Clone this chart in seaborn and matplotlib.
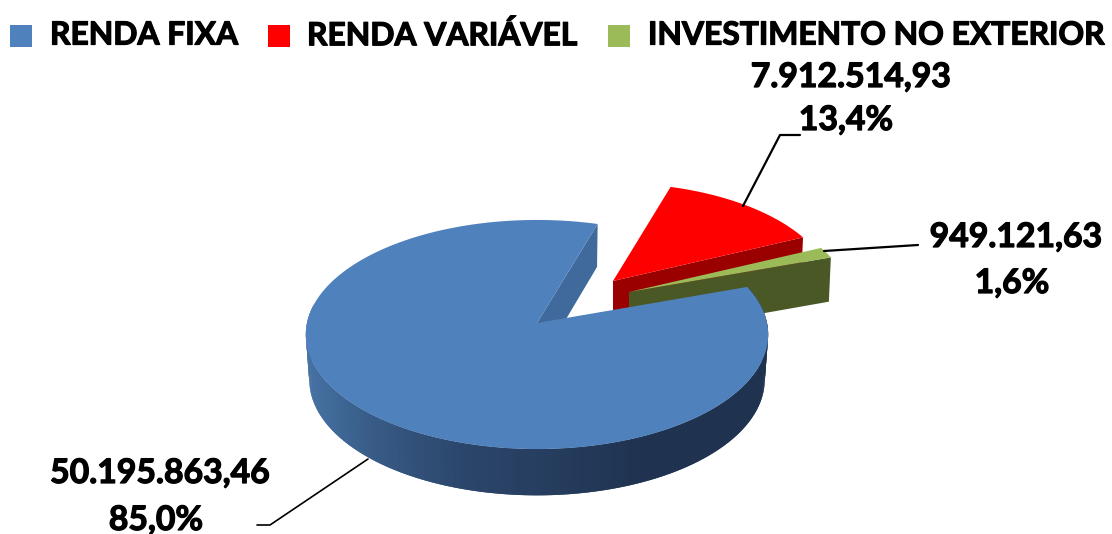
import numpy as np
import matplotlib
matplotlib.use('Agg')
import matplotlib.pyplot as plt
import matplotlib.patheffects as pe
import seaborn as sns

# data
categories = ['RENDA FIXA', 'RENDA VARIÁVEL', 'INVESTIMENTO NO EXTERIOR']
values = [50195863.46, 7912514.93, 949121.63]
colors_top = ['#4f81bd', '#ff0000', '#9bbb59']
colors_face = ['#3f6a9b', '#9a0000', '#4a5826']

sns.set_theme(style='white')
plt.rcParams['font.family'] = ['Lato', 'DejaVu Sans']

fig = plt.figure(figsize=(11.12, 5.34), dpi=100)
ax = fig.add_axes([0, 0, 1, 1])
ax.set_xlim(0, 1112)
ax.set_ylim(534, 0)
ax.axis('off')

# pie geometry, in figure pixels
RX, RY, PERSP = 230, 113.4, 0.1005
DEPTH = 45
START = 73.2  # where the big slice starts, the rest goes counter clockwise

shares = np.array(values) / sum(values)
sweeps = shares * 360
blue_a0, blue_a1 = START, START + sweeps[0]
green_a0, green_a1 = blue_a1 - 360, blue_a1 - 360 + sweeps[2]
red_a0, red_a1 = green_a1, green_a1 + sweeps[1]


def ring(cx, cy, scale, ang, depth=0.0):
    t = np.radians(ang)
    u, v = np.cos(t), np.sin(t)
    d = 1 + PERSP * v
    x = cx + scale * RX * u / d
    y = cy - scale * RY * v / d + depth * (1 - 0.07 * v)
    return x, y


def cut_face(cx, cy, scale, ang, color):
    x0, y0 = ring(cx, cy, scale, ang)
    x1, y1 = ring(cx, cy, scale * 0.99, ang, DEPTH)
    ax.fill([cx, x0, x1, cx], [cy, y0, y1, cy + DEPTH], color=color, lw=0)


def top_face(cx, cy, scale, a0, a1, color):
    ang = np.linspace(a0, a1, 300)
    x, y = ring(cx, cy, scale, ang)
    ax.fill(np.r_[cx, x], np.r_[cy, y], color=color, lw=0)


# red slice
rx0, ry0, rs = 613, 281, 0.95
cut_face(rx0, ry0, rs, red_a0, colors_face[1])
top_face(rx0, ry0, rs, red_a0, red_a1, colors_top[1])

# green slice
gx0, gy0, gs = 629, 292, 0.96
cut_face(gx0, gy0, gs, green_a0, colors_face[2])
top_face(gx0, gy0, gs, green_a0, green_a1, colors_top[2])

# big slice, rim as a row of shaded pieces, each one overlaps the next to hide seams
bx0, by0 = 537, 323
cut_face(bx0, by0, 1.0, blue_a0, colors_face[0])
n_seg = 200
rim_edges = np.linspace(170, blue_a1, n_seg + 1)
rim_colors = sns.blend_palette(['#4f7db3', '#406a99', '#2b456a', '#1f3350', '#1f3350', '#1f3350'], n_seg)
for i in range(n_seg):
    seg = np.linspace(rim_edges[i], rim_edges[min(i + 2, n_seg)], 4)
    xa, ya = ring(bx0, by0, 1.0, seg)
    xb, yb = ring(bx0, by0, 0.985, seg[::-1], DEPTH)
    ax.fill(np.r_[xa, xb], np.r_[ya, yb], color=rim_colors[i], lw=0)
top_face(bx0, by0, 1.0, blue_a0, blue_a1, colors_top[0])

# leader lines
ax.plot([800, 780, 743], [135, 135, 206], color='black', lw=1.6)
ax.plot([824, 918], [251, 245], color='black', lw=1.6)
ax.plot([368, 270, 257], [459, 525, 525], color='black', lw=1.2)


def fmt_value(v):
    return f'{v:,.2f}'.replace(',', 'X').replace('.', ',').replace('X', '.')


def fmt_share(s):
    return f'{s * 100:.1f}%'.replace('.', ',')


# text looks heavier than plain bold in the original
heavy = [pe.withStroke(linewidth=0.9, foreground='black')]

# legend
sns.scatterplot(x=[21, 279, 619], y=[36, 36, 36], hue=categories, palette=colors_top,
                marker='s', s=245, linewidth=0, legend=False, ax=ax)
ax.set_xlim(0, 1112)
ax.set_ylim(534, 0)
ax.set_axis_off()
for name, tx in zip(categories, [50, 307, 648]):
    ax.text(tx, 35, name, fontsize=22.9, fontweight='bold', color='black', ha='left', va='center',
            path_effects=heavy)

# value labels
label_pos = [(160, 473, 156, 520), (851, 77, 846, 120), (1016, 237, 1012, 283)]
for v, s, (x1, y1, x2, y2) in zip(values, shares, label_pos):
    ax.text(x1, y1, fmt_value(v), fontsize=24.3, fontweight='bold', color='black', ha='center', va='center',
            path_effects=heavy)
    ax.text(x2, y2, fmt_share(s), fontsize=24.3, fontweight='bold', color='black', ha='center', va='center',
            path_effects=heavy)

fig.savefig('out.png', dpi=100)
